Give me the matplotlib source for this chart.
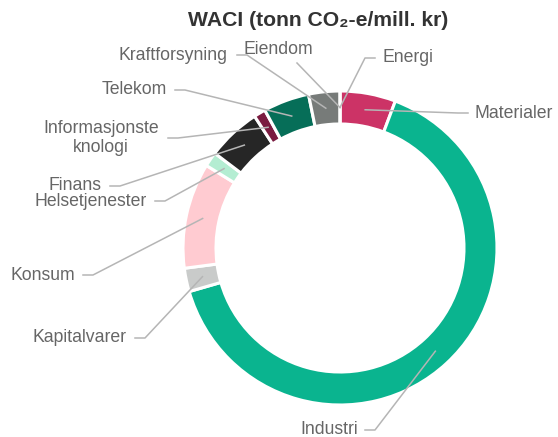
import numpy as np
import matplotlib
matplotlib.use("Agg")
import matplotlib.pyplot as plt

plt.rcParams['font.family'] = ['Liberation Sans', 'DejaVu Sans']

# sectors in drawing order (clockwise from top)
sectors = ['Energi', 'Materialer', 'Industri', 'Kapitalvarer', 'Konsum',
           'Helsetjenester', 'Finans', 'Informasjonste\nknologi', 'Telekom',
           'Kraftforsyning', 'Eiendom']
waci = [0.0, 5.7, 64.4, 2.4, 10.8, 1.5, 5.5, 1.2, 4.7, 3.2, 0.0]
colors = ['#CC3366', '#CC3366', '#0AB48F', '#C9CBCA', '#FFCBD1',
          '#B4EDD2', '#262626', '#7A1B40', '#066E58', '#777B79', '#777B79']

title = 'WACI (tonn CO\u2082-e/mill. kr)'

W, H = 558, 437
cx, cy, R, ring = 340, H - 248, 157, 33

# label layout: text x, text y, ha, line start x, elbow x (pixel coords, y from top)
label_pos = {
    'Energi': (383, 58, 'left', 375, 365),
    'Materialer': (475, 113, 'left', 468, 458),
    'Industri': (358, 430, 'right', 365, 375),
    'Kapitalvarer': (127, 338, 'right', 135, 145),
    'Konsum': (75, 275, 'right', 83, 93),
    'Helsetjenester': (147, 201, 'right', 155, 165),
    'Finans': (102, 186, 'right', 110, 120),
    'Informasjonste\nknologi': (101, 138, 'center', 168, 178),
    'Telekom': (167, 90, 'right', 175, 185),
    'Kraftforsyning': (228, 55, 'right', 237, 247),
    'Eiendom': (278, 50, 'center', 297, 297),
}

fig = plt.figure(figsize=(W / 100, H / 100), dpi=100)
ax = fig.add_axes([0, 0, 1, 1])

wedges, _ = ax.pie(waci, colors=colors, startangle=90, counterclock=False,
                   center=(cx, cy), radius=R, normalize=True,
                   wedgeprops=dict(width=ring, edgecolor='white', linewidth=2.2))

total = sum(waci)
start = 0.0
for name, val in zip(sectors, waci):
    mid = np.radians(start + val / total * 360 / 2)
    start += val / total * 360
    r = R - ring / 2
    axp, ayp = cx + r * np.sin(mid), cy + r * np.cos(mid)
    tx, ty, ha, lx, ex = label_pos[name]
    if name == 'Eiendom':
        ax.plot([lx, axp], [H - 63, ayp], color='#B5B5B5', lw=1.1)
    else:
        ax.plot([lx, ex, axp], [H - ty, H - ty, ayp], color='#B5B5B5', lw=1.1)
    ax.text(tx, H - ty, name, ha=ha, va='center', fontsize=12.7,
            color='#666666', linespacing=1.15)

ax.text(318, H - 20, title, ha='center', va='center', fontsize=15.2,
        fontweight='bold', color='#333333')

ax.set_xlim(0, W)
ax.set_ylim(0, H)
ax.set_aspect('equal')
ax.axis('off')

fig.savefig('out.png', dpi=100)
